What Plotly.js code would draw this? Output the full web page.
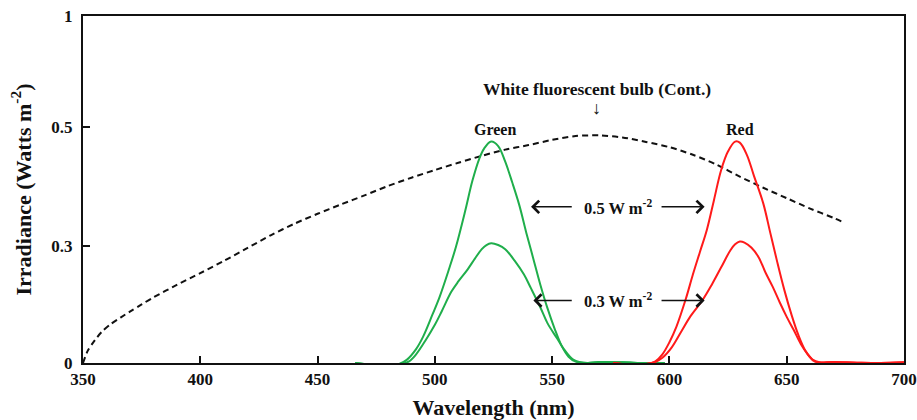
<!DOCTYPE html>
<html>
<head>
<meta charset="utf-8">
<script src="https://cdn.plot.ly/plotly-3.0.1.min.js"></script>
<style>html,body{margin:0;padding:0;background:#fff;}#chart{width:917px;height:420px;}</style>
</head>
<body>
<div id="chart"></div>
<script>
// Y axis of the original is not linear: values are stored in axis position units
// (0 = bottom, 1 = top), and the tick labels give the printed irradiance.
const yTickVals = [0, 0.337, 0.68, 1];
const yTickText = ['0', '0.3', '0.5', '1'];
const xTickVals = [350, 400, 450, 500, 550, 600, 650, 700];

// White fluorescent bulb (continuous spectrum)
const fluoNm = [350,352,355,358,362,366,370,375,380,390,400,410,420,430,440,450,460,470,480,490,500,510,520,530,540,550,560,570,580,590,600,610,620,630,640,650,660,670,674];
const fluoVal = [0,0.035,0.065,0.09,0.113,0.131,0.148,0.169,0.189,0.225,0.259,0.294,0.331,0.368,0.401,0.43,0.457,0.483,0.51,0.534,0.556,0.577,0.597,0.615,0.628,0.643,0.654,0.656,0.65,0.637,0.622,0.6,0.572,0.537,0.505,0.475,0.445,0.418,0.406];

// Green LED, 0.5 W m-2
const greenHighNm = [466,470,475,480,485,488,492,495,499,502,506,509,513,516,519,521,524,527,530,533,536,539,542,545,548,551,554,557,560,565,570,580,590,598];
const greenHighVal = [0,-0.003,-0.005,-0.005,-0.002,0.009,0.04,0.076,0.14,0.19,0.27,0.335,0.44,0.525,0.59,0.618,0.638,0.625,0.58,0.52,0.455,0.375,0.3,0.225,0.158,0.1,0.05,0.018,0.004,0,0.003,0.002,0,0];

// Green LED, 0.3 W m-2
const greenLowNm = [466,470,475,480,485,489,492,496,500,503,507,510,514,517,520,522,524,527,530,534,538,541,545,548,552,555,559,565,570,580,590,598];
const greenLowVal = [0,-0.003,-0.005,-0.005,-0.003,0.005,0.025,0.065,0.11,0.15,0.205,0.235,0.27,0.3,0.328,0.34,0.345,0.34,0.328,0.295,0.255,0.215,0.16,0.115,0.072,0.04,0.01,0,0.003,0.002,0,0];

// Red LED, 0.5 W m-2
const redHighNm = [576,580,585,590,594,597,600,603,607,610,613,616,619,622,625,628,630,633,636,640,643,646,649,652,655,658,661,664,670,680,690,700];
const redHighVal = [0,-0.003,-0.005,-0.003,0.005,0.025,0.06,0.105,0.185,0.255,0.32,0.385,0.47,0.555,0.61,0.638,0.635,0.6,0.54,0.46,0.375,0.29,0.21,0.14,0.08,0.035,0.01,0.002,0.003,0.001,0,0.002];

// Red LED, 0.3 W m-2
const redLowNm = [576,580,585,590,594,597,601,605,609,614,618,622,626,628,630,632,635,638,641,644,647,650,653,656,659,662,670,680,690,700];
const redLowVal = [0,-0.003,-0.005,-0.003,0.003,0.015,0.045,0.09,0.135,0.18,0.225,0.275,0.325,0.342,0.35,0.347,0.332,0.305,0.26,0.22,0.175,0.133,0.095,0.055,0.025,0.004,0.003,0.001,0,0.002];

const GREEN = '#1fae4b';
const RED = '#ff1a1a';
const FONT = 'Liberation Serif, Times New Roman, serif';

const traces = [
  {x: fluoNm, y: fluoVal, mode: 'lines', line: {color: '#111', width: 2, dash: '6px,4px', shape: 'spline', smoothing: 0.8}, name: 'White fluorescent'},
  {x: greenHighNm, y: greenHighVal, mode: 'lines', line: {color: GREEN, width: 2, shape: 'spline'}, name: 'Green 0.5'},
  {x: greenLowNm, y: greenLowVal, mode: 'lines', line: {color: GREEN, width: 2, shape: 'spline'}, name: 'Green 0.3'},
  {x: redHighNm, y: redHighVal, mode: 'lines', line: {color: RED, width: 2, shape: 'spline'}, name: 'Red 0.5'},
  {x: redLowNm, y: redLowVal, mode: 'lines', line: {color: RED, width: 2, shape: 'spline'}, name: 'Red 0.3'}
];

function arrow(xTail, xHead, y) {
  return {x: xHead, y: y, ax: xTail, ay: y, xref: 'x', yref: 'y', axref: 'x', ayref: 'y',
    text: '', showarrow: true, arrowhead: 4, arrowsize: 1.6, arrowwidth: 1.5, arrowcolor: '#111'};
}
function label(text, x, y, size) {
  return {x: x, y: y, xref: 'x', yref: 'y', text: text, showarrow: false,
    font: {family: FONT, size: size || 15, color: '#111', weight: 'bold'}};
}

const annotations = [
  label('<b>White fluorescent bulb (Cont.)</b>', 569, 0.79, 17.5),
  label('↓', 569, 0.735, 18),
  label('<b>Green</b>', 525.5, 0.672, 16),
  label('<b>Red</b>', 630, 0.672, 16),
  label('<b>0.5 W m<sup>-2</sup></b>', 578, 0.448, 16.5),
  label('<b>0.3 W m<sup>-2</sup></b>', 578, 0.18, 16.5),
  arrow(559, 541, 0.45),
  arrow(596, 615, 0.45),
  arrow(559, 542, 0.18),
  arrow(596, 615, 0.18)
];

const layout = {
  width: 917, height: 420,
  margin: {l: 83, r: 13, t: 16, b: 57},
  paper_bgcolor: '#fff', plot_bgcolor: '#fff',
  showlegend: false,
  font: {family: FONT, color: '#111'},
  xaxis: {
    range: [350, 700], tickvals: xTickVals, ticks: 'inside', ticklen: 7, tickwidth: 2, tickcolor: '#111',
    showline: true, linecolor: '#111', linewidth: 2, mirror: true, showgrid: false, zeroline: false,
    tickfont: {family: FONT, size: 17, color: '#111', weight: 'bold'},
    title: {text: '<b>Wavelength (nm)</b>', font: {family: FONT, size: 22, color: '#111'}, standoff: 12}
  },
  yaxis: {
    range: [0, 1], tickvals: yTickVals, ticktext: yTickText, ticks: 'inside', ticklen: 7, tickwidth: 2, tickcolor: '#111',
    showline: true, linecolor: '#111', linewidth: 2, mirror: true, showgrid: false, zeroline: false,
    ticklabelstandoff: 5,
    tickfont: {family: FONT, size: 17, color: '#111', weight: 'bold'},
    title: {text: '<b>Irradiance (Watts m<sup>-2</sup>)</b>', font: {family: FONT, size: 22, color: '#111'}, standoff: 14}
  },
  annotations: annotations
};

Plotly.newPlot('chart', traces, layout, {displayModeBar: false, staticPlot: true});
</script>
</body>
</html>
